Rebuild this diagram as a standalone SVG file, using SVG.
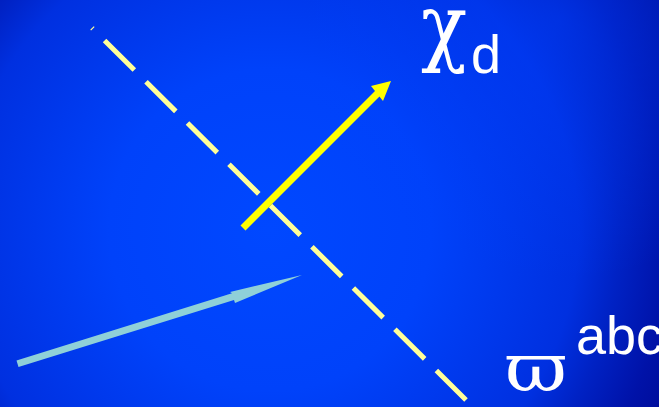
<svg xmlns="http://www.w3.org/2000/svg" width="659" height="407" viewBox="0 0 659 407">
<defs>
<radialGradient id="bg" cx="270" cy="230" r="460" gradientUnits="userSpaceOnUse">
<stop offset="0" stop-color="#0048ff"/>
<stop offset="0.35" stop-color="#0042fa"/>
<stop offset="0.67" stop-color="#0030e0"/>
<stop offset="0.76" stop-color="#0022c4"/>
<stop offset="0.87" stop-color="#0012a8"/>
<stop offset="1" stop-color="#000890"/>
</radialGradient>
<radialGradient id="glow" cx="560" cy="20" r="260" gradientUnits="userSpaceOnUse">
<stop offset="0" stop-color="#0040ff" stop-opacity="0.55"/>
<stop offset="1" stop-color="#0040ff" stop-opacity="0"/>
</radialGradient>
<style>
.lbl{fill:#ffffff;font-family:"Liberation Sans",Arial,sans-serif;font-size:54px}
.gk{fill:#ffffff;font-family:"DejaVu Serif",serif}
</style>
</defs>
<rect x="0" y="0" width="659" height="407" fill="url(#bg)"/>
<rect x="0" y="0" width="659" height="407" fill="url(#glow)"/>
<g id="connectors">
<line id="dash" x1="92" y1="28" x2="466" y2="400" stroke="#ffff99" stroke-width="5" stroke-dasharray="42 16.5" stroke-dashoffset="40.8"/>
<g id="yellow-arrow">
<line x1="243" y1="228" x2="378" y2="93" stroke="#ffff00" stroke-width="7"/>
<polygon points="391,81 371,86 383,101" fill="#ffff00"/>
</g>
<g id="cyan-arrow">
<polygon points="16.5,360.5 232,293.3 230,292 302,275 235,303 234,299.9 18.5,367.1" fill="#8fd0d8"/>
</g>
</g>
<g id="chi-label">
<text class="gk" x="421" y="55" font-size="86" textLength="46" lengthAdjust="spacingAndGlyphs">χ</text>
<text class="lbl" x="471" y="73">d</text>
</g>
<g id="varpi-label">
<text class="gk" x="505" y="391" font-size="68" textLength="62" lengthAdjust="spacingAndGlyphs">ϖ</text>
<text class="lbl" x="576" y="354">abc</text>
</g>
</svg>
